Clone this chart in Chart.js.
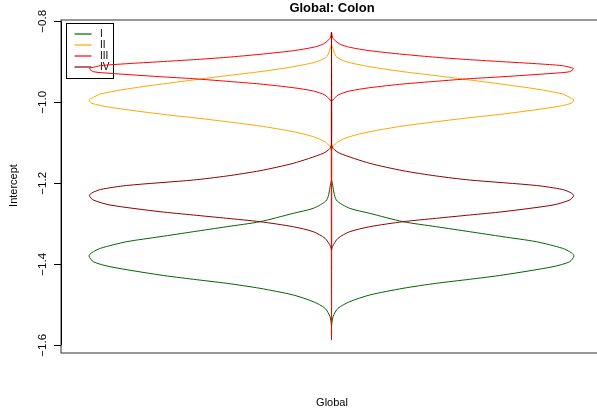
<!DOCTYPE html>
<html>
<head>
<meta charset="utf-8">
<script src="https://cdn.jsdelivr.net/npm/chart.js@4/dist/chart.umd.min.js"></script>
<style>
  html, body { margin: 0; padding: 0; background: #fff; overflow: hidden; }
  canvas { display: block; }
</style>
</head>
<body>
<canvas id="chart" width="597" height="413"></canvas>
<script>
// Global: Colon — mirrored density outlines per stage
const groupLabels = ['I', 'II', 'III', 'IV'];
const groupColors = ['#006400', '#FFA500', '#FF0000', '#8B0000'];
const yTicks = [-0.8, -1.0, -1.2, -1.4, -1.6];

// intercept (y) and half-width (w, 1 = widest) along each outline, top to bottom
const yI = [-1.1919, -1.2, -1.2412, -1.2617, -1.2741, -1.2948, -1.3072, -1.3195, -1.3319, -1.3442, -1.3605, -1.3714, -1.3795,
  -1.3936, -1.4059, -1.4264, -1.4370, -1.4469, -1.4593, -1.4758, -1.4923, -1.5086, -1.5294, -1.5548];
const wI = [0, 0.0033, 0.0198, 0.0751, 0.1575, 0.2948, 0.4322, 0.5699, 0.7072, 0.8445, 0.9526, 0.9889, 1.0,
  0.9823, 0.9134, 0.7072, 0.5699, 0.4322, 0.2948, 0.1575, 0.0751, 0.0268, 0.0062, 0];

const yII = [-0.8560, -0.8627, -0.8874, -0.8998, -0.9121, -0.9244, -0.9343, -0.9449, -0.9556, -0.9672, -0.9795, -0.9901, -0.9943,
  -1.0025, -1.0123, -1.0289, -1.0380, -1.0479, -1.0585, -1.0726, -1.0849, -1.0973, -1.1096, -1.1220];
const wII = [0, 0.0033, 0.0198, 0.0610, 0.1575, 0.2948, 0.4322, 0.5699, 0.7072, 0.8445, 0.9526, 0.9889, 0.9988,
  0.9889, 0.9134, 0.7072, 0.5699, 0.4322, 0.2948, 0.1575, 0.0751, 0.0268, 0.0062, 0];

const yIII = [-0.8264, -0.8420, -0.8560, -0.8642, -0.8726, -0.8815, -0.8889, -0.8948, -0.8998, -0.9047, -0.9096, -0.9146, -0.9170,
  -0.9244, -0.9284, -0.9368, -0.9417, -0.9481, -0.9548, -0.9640, -0.9721, -0.9820, -0.9943, -0.9980];
const wIII = [0, 0.0062, 0.0338, 0.0751, 0.1575, 0.2948, 0.4322, 0.5699, 0.7072, 0.8445, 0.9526, 0.9889, 0.9988,
  0.9823, 0.9134, 0.7072, 0.5699, 0.4322, 0.2948, 0.1575, 0.0751, 0.0268, 0.0062, 0];

const yIV = [-1.1005, -1.1136, -1.1259, -1.1506, -1.1689, -1.1820, -1.1919, -1.2054, -1.2153, -1.2240, -1.2306,
  -1.2412, -1.2536, -1.2701, -1.2783, -1.2864, -1.2948, -1.3072, -1.3195, -1.3358, -1.3565, -1.3647];
const wIV = [0, 0.0062, 0.0338, 0.1575, 0.2948, 0.4322, 0.5699, 0.8445, 0.9526, 0.9889, 0.9988,
  0.9823, 0.9134, 0.7072, 0.5699, 0.4322, 0.2948, 0.1575, 0.0751, 0.0268, 0.0033, 0];

// where each outline's flat (zero-width) tail runs along the centre
const tailTop = [-1.1919, -0.840, -0.8264, -0.8264];
const tailBottom = [-1.587, -1.20, -1.587, -1.3647];

const ys = [yI, yII, yIII, yIV];
const ws = [wI, wII, wIII, wIV];
const drawOrder = [3, 2, 1, 0];

const FONT = 'Liberation Sans, Arial, Helvetica, sans-serif';

function outline(yv, wv, top, bottom) {
  const left = [{ x: 0, y: top }];
  yv.forEach((y, i) => left.push({ x: -wv[i], y }));
  left.push({ x: 0, y: bottom });
  const right = yv.map((y, i) => ({ x: wv[i], y })).reverse();
  return left.concat(right, [{ x: 0, y: top }]);
}

const datasets = groupLabels.map((label, i) => ({
  label,
  data: outline(ys[i], ws[i], tailTop[i], tailBottom[i]),
  borderColor: groupColors[i],
  backgroundColor: groupColors[i],
  borderWidth: 1,
  pointRadius: 0,
  showLine: true,
  tension: 0.25,
  fill: false,
  order: drawOrder[i],
}));

const frame = {
  id: 'frame',
  beforeDatasetsDraw(chart) {
    const { ctx, chartArea: a, scales } = chart;
    const y = scales.y;
    ctx.save();
    // box
    ctx.strokeStyle = '#333';
    ctx.lineWidth = 1;
    ctx.strokeRect(a.left, a.top, a.right + 10 - a.left, a.bottom - a.top);

    // y axis with rotated labels
    ctx.strokeStyle = '#000';
    ctx.beginPath();
    ctx.moveTo(a.left + 0.5, y.getPixelForValue(yTicks[0]));
    ctx.lineTo(a.left + 0.5, y.getPixelForValue(yTicks[yTicks.length - 1]));
    yTicks.forEach((t) => {
      const py = Math.round(y.getPixelForValue(t)) + 0.5;
      ctx.moveTo(a.left, py);
      ctx.lineTo(a.left - 7, py);
    });
    ctx.stroke();

    ctx.fillStyle = '#000';
    ctx.font = `11.5px ${FONT}`;
    ctx.textAlign = 'center';
    ctx.textBaseline = 'alphabetic';
    yTicks.forEach((t) => {
      ctx.save();
      ctx.translate(45.5, y.getPixelForValue(t));
      ctx.rotate(-Math.PI / 2);
      ctx.fillText(t.toFixed(1).replace('-', '\u2212'), 0, 0);
      ctx.restore();
    });

    ctx.font = `11px ${FONT}`;
    ctx.save();
    ctx.translate(17, 185.5);
    ctx.rotate(-Math.PI / 2);
    ctx.fillText('Intercept', 0, 0);
    ctx.restore();

    ctx.fillText('Global', 332, 406);
    ctx.font = `bold 13px ${FONT}`;
    ctx.fillText('Global: Colon', 332, 12);

    // legend (curves are drawn over it)
    ctx.lineWidth = 1;
    ctx.strokeStyle = '#000';
    ctx.strokeRect(66.5, 23.5, 47, 55);
    ctx.font = `10px ${FONT}`;
    ctx.textAlign = 'left';
    ctx.textBaseline = 'middle';
    groupLabels.forEach((label, i) => {
      const ly = 34 + i * 11;
      ctx.strokeStyle = groupColors[i];
      ctx.lineWidth = 1.2;
      ctx.beginPath();
      ctx.moveTo(74.5, ly);
      ctx.lineTo(91.5, ly);
      ctx.stroke();
      ctx.fillStyle = '#000';
      ctx.fillText(label, 100, ly);
    });
    ctx.restore();
  },
};

new Chart(document.getElementById('chart'), {
  type: 'scatter',
  data: { datasets },
  options: {
    responsive: false,
    animation: false,
    layout: { padding: { left: 61, right: 0, top: 20, bottom: 60 } },
    plugins: { legend: { display: false }, tooltip: { enabled: false }, title: { display: false } },
    scales: {
      x: { type: 'linear', display: false, min: -1.1155, max: 1.0948 },
      y: { type: 'linear', display: false, min: -1.619, max: -0.7968 },
    },
  },
  plugins: [frame],
});
</script>
</body>
</html>
